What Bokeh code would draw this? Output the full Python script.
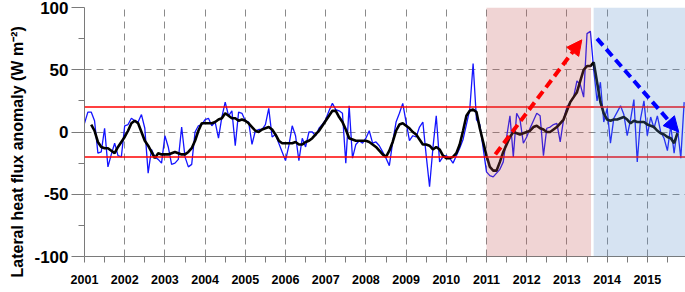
import numpy as np
from bokeh.plotting import figure
from bokeh.models import Range1d, FixedTicker, Span, BoxAnnotation, Arrow, NormalHead, Title
from bokeh.embed import file_html
from bokeh.resources import INLINE

# ---------------- data ----------------
start_year = 2001
# monthly lateral heat flux anomaly (W m-2), Jan 2001 .. Dec 2015
monthly_anomaly = [
    7, 16, 16, 9, -17, -16, 3, -28, -18, -9, -19, -20,        # 2001
    5, 6, 11, 9, 8, 14, 3, -33, -14, -20, -22, -25,           # 2002
    -3, -12, -26, -25, -22, 4, -20, -28, -26, 0, 5, 6,        # 2003
    10, 11, 5, 8, -5, 12, 24, 13, 17, -11, 16, 15,            # 2004
    9, 8, -10, 1, 2, 2, 6, 19, -4, -2, -9, -16,               # 2005
    -23, -11, 5, -3, -23, -5, -12, 0, 0, -3, 3, 6,            # 2006
    10, 17, 23, 18, 17, 15, -25, 21, -21, -10, -7, -9,        # 2007
    -5, 1, -9, -8, -11, -16, -21, -27, -8, 8, 15, 23,         # 2008
    8, -7, -3, -4, 4, 8, -19, -44, -13, 13, -24, -20,         # 2009
    -19, -21, -25, -19, -13, -6, 6, 18, 55, 10, 6, -13,       # 2010
    -32, -35, -36, -33, -30, -24, -4, 13, -20, 15, 10, -9,    # 2011
    -4, 3, 9, 15, 13, -19, 3, 4, 6, 7, -8, 10,                # 2012
    20, 24, 28, 41, 38, 28, 79, 81, 50, 25, 40, 8,            # 2013
    19, -9, 11, 16, 21, 14, -3, 10, 26, -24, 11, 25,          # 2014
    -3, 12, 3, 13, 0, -5, -15, 5, -17, 3, -21, 24,            # 2015
]
# smoothed series (black), Mar 2001 .. Oct 2015
running_mean_first_month = 2
running_mean = [
    6, 1, -8, -12, -13, -13, -15, -17, -12, -8,
    -4, 1, 7, 9, 7, 0, -7, -11, -16, -21, -17, -18,
    -18, -18, -17, -16, -17, -18, -18, -16, -13, -7, 1, 7,
    7, 7, 7, 8, 10, 11, 15, 13, 11, 11, 9, 10,
    9, 7, 4, 1, 0, 2, 3, 4, 2, -2, -7, -9,
    -9, -9, -9, -8, -10, -10, -8, -7, -5, -2, 1, 5,
    9, 13, 17, 17, 12, 8, 2, -5, -6, -7, -7, -7,
    -7, -8, -10, -12, -15, -18, -20, -15, -8, 1, 6, 7,
    5, 3, 0, -2, -6, -10, -10, -11, -14, -12, -14, -19,
    -21, -21, -20, -17, -10, 1, 13, 17, 18, 16, 3, -8,
    -19, -28, -31, -31, -24, -16, -10, -4, 0, -1, -2, -1,
    0, 1, 4, 5, 3, 2, 0, 0, 2, 4, 7, 10,
    17, 24, 28, 32, 41, 50, 53, 53, 56, 40, 24, 15,
    10, 9, 10, 10, 11, 12, 10, 7, 9, 8, 8, 8,
    6, 5, 4, 1, -1, -2, -4, -5, -9, -1,
]
year_ticks = list(range(2001, 2016))
year_labels = [str(y) for y in year_ticks]
flux_ticks = [-100, -50, 0, 50, 100]
flux_labels = ["-100", "-50", "0", "50", "100"]
flux_minor_ticks = [-75, -25, 25, 75]
threshold_levels = [20, -20]
increase_period = [2011.0, 2013.6]
decrease_period = [2013.665, 2015.95]
increase_arrow = [2011.22, -18, 2013.37, 74]
decrease_arrow = [2013.75, 75, 2015.78, 0]
x_limits = [2001, 2015.95]
y_limits = [-100, 100]
y_title = "Lateral heat flux anomaly (W m\u207b\u00b2)"

# ---------------- figure ----------------
FONT = "Liberation Sans"
p = figure(width=685, height=292, output_backend="svg", toolbar_location=None,
           x_range=Range1d(*x_limits), y_range=Range1d(*y_limits),
           min_border_left=0, min_border_right=0, min_border_top=7, min_border_bottom=36)
p.outline_line_color = None
p.background_fill_color = "white"
p.border_fill_color = "white"

t_month = start_year + np.arange(len(monthly_anomaly)) / 12.0
t_mean = start_year + (running_mean_first_month + np.arange(len(running_mean))) / 12.0

p.line(t_month, monthly_anomaly, line_color="#1414ff", line_width=1.3)
p.line(t_mean, running_mean, line_color="black", line_width=2.6)

# axes
p.xaxis.ticker = FixedTicker(ticks=year_ticks, minor_ticks=[y + 0.5 for y in year_ticks])
p.xaxis.major_label_overrides = {y: l for y, l in zip(year_ticks, year_labels)}
p.yaxis.ticker = FixedTicker(ticks=flux_ticks, minor_ticks=flux_minor_ticks)
p.yaxis.major_label_overrides = {v: l for v, l in zip(flux_ticks, flux_labels)}

for ax in (p.xaxis, p.yaxis):
    ax.axis_line_color = "#7a7a7a"
    ax.major_tick_line_color = "#7a7a7a"
    ax.minor_tick_line_color = "#7a7a7a"
    ax.major_tick_in = 0
    ax.minor_tick_in = 0
    ax.minor_tick_out = 6
    ax.major_label_text_font = FONT
    ax.major_label_text_font_style = "bold"
    ax.major_label_text_color = "black"

p.xaxis.major_tick_out = 6
p.xaxis.major_label_text_font_size = "12.5px"
p.xaxis.major_label_standoff = 12

p.yaxis.major_tick_out = 13
p.yaxis.major_label_text_font_size = "17px"
p.yaxis.major_label_standoff = 3

# vertical axis title, placed on the left side
p.add_layout(Title(text=y_title, align="left", offset=-21, standoff=12,
                   text_font=FONT, text_font_style="bold", text_font_size="16px",
                   text_color="black"), "left")

for g in (p.xgrid, p.ygrid):
    g.grid_line_color = "#8a8a8a"
    g.grid_line_dash = "7 5"
    g.grid_line_width = 1

# threshold lines
for lev in threshold_levels:
    p.add_layout(Span(location=lev, dimension="width", line_color="red", line_width=1.5))

# shaded periods (drawn over the lines)
p.add_layout(BoxAnnotation(left=increase_period[0], right=increase_period[1],
                           fill_color=(196, 84, 84), fill_alpha=0.25, line_color=None))
p.add_layout(BoxAnnotation(left=decrease_period[0], right=decrease_period[1],
                           fill_color=(92, 144, 204), fill_alpha=0.25, line_color=None))

# trend arrows
p.add_layout(Arrow(end=NormalHead(size=15, fill_color="red", line_color="red"),
                   x_start=increase_arrow[0], y_start=increase_arrow[1],
                   x_end=increase_arrow[2], y_end=increase_arrow[3],
                   line_color="red", line_width=4, line_dash="9 5"))
p.add_layout(Arrow(end=NormalHead(size=15, fill_color="blue", line_color="blue"),
                   x_start=decrease_arrow[0], y_start=decrease_arrow[1],
                   x_end=decrease_arrow[2], y_end=decrease_arrow[3],
                   line_color="blue", line_width=4, line_dash="9 5"))

open("out.html", "w").write(file_html(p, INLINE))
